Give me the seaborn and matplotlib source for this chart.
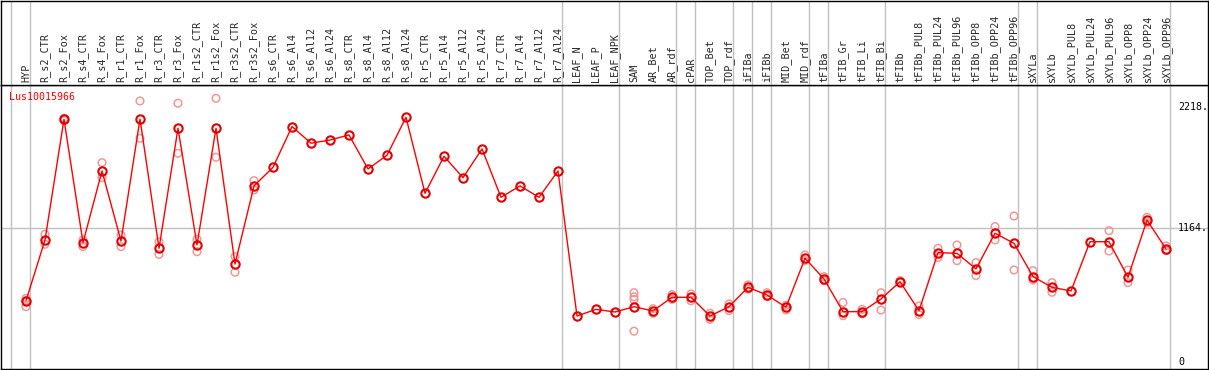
import matplotlib
matplotlib.use('Agg')
import matplotlib.pyplot as plt
import seaborn as sns
import pandas as pd

gene = 'Lus10015966'

samples = ['HYP', 'R_s2_CTR', 'R_s2_Fox', 'R_s4_CTR', 'R_s4_Fox', 'R_r1_CTR', 'R_r1_Fox',
           'R_r3_CTR', 'R_r3_Fox', 'R_r1s2_CTR', 'R_r1s2_Fox', 'R_r3s2_CTR', 'R_r3s2_Fox',
           'R_s6_CTR', 'R_s6_Al4', 'R_s6_Al12', 'R_s6_Al24', 'R_s8_CTR', 'R_s8_Al4',
           'R_s8_Al12', 'R_s8_Al24', 'R_r5_CTR', 'R_r5_Al4', 'R_r5_Al12', 'R_r5_Al24',
           'R_r7_CTR', 'R_r7_Al4', 'R_r7_Al12', 'R_r7_Al24', 'LEAF_N', 'LEAF_P', 'LEAF_NPK',
           'SAM', 'AR_Bet', 'AR_rdf', 'cPAR', 'TOP_Bet', 'TOP_rdf', 'iFIBa', 'iFIBb',
           'MID_Bet', 'MID_rdf', 'tFIBa', 'tFIB_Gr', 'tFIB_Li', 'tFIB_Bi', 'tFIBb',
           'tFIBb_PUL8', 'tFIBb_PUL24', 'tFIBb_PUL96', 'tFIBb_OPP8', 'tFIBb_OPP24',
           'tFIBb_OPP96', 'sXYLa', 'sXYLb', 'sXYLb_PUL8', 'sXYLb_PUL24', 'sXYLb_PUL96',
           'sXYLb_OPP8', 'sXYLb_OPP24', 'sXYLb_OPP96']

# number of samples in each tissue group (separated by grey lines)
group_sizes = [1, 28, 3, 3, 1, 2, 1, 1, 2, 1, 3, 7, 1, 7]

means = [530, 1059, 2110, 1036, 1660, 1050, 2113, 987, 2032, 1016, 2032, 850, 1530,
         1692, 2047, 1902, 1930, 1974, 1678, 1797, 2128, 1466, 1788, 1602, 1852,
         1431, 1530, 1431, 1660, 397, 455, 432,
         478, 441, 560, 560, 397, 478, 647, 580, 473, 900, 720, 435, 435, 545, 696,
         443, 949, 943, 807, 1118, 1030, 740, 647, 615, 1044, 1044, 734, 1233, 981]

replicates = [[551, 478, 530], [1109, 1022], [2120, 2100], [1059, 1001], [1733, 1602],
              [1103, 1001], [2270, 1945], [1044, 934], [2250, 1814], [1065, 957],
              [2293, 1780], [914, 778], [1576, 1495],
              [], [], [], [], [], [], [], [], [], [], [], [], [], [], [], [],
              [], [], [],
              [600, 565, 540, 265], [461, 421], [583, 542], [589, 530], [421, 368],
              [502, 444], [668, 630], [600, 566], [490, 450], [929, 880], [740, 705],
              [515, 400], [455, 415], [600, 449], [705, 690], [484, 409], [987, 906],
              [1016, 879], [862, 749], [1176, 1060], [1268, 798], [792, 711], [688, 604],
              [], [], [1140, 963], [798, 688], [1257, 1210], [1007, 966]]

y_ticks = [0, 1164, 2218]
y_tick_labels = ['0', '1164.', '2218.']

rows = []
for i, vals in enumerate(replicates):
    for v in vals:
        rows.append({'pos': i, 'value': v})
rep_df = pd.DataFrame(rows)
mean_df = pd.DataFrame({'pos': range(len(samples)), 'value': means})

sns.set_style('white')
plt.rcParams['font.family'] = ['DejaVu Sans Mono']

W, H = 1209, 370
fig = plt.figure(figsize=(W / 100, H / 100), dpi=100)
ax = fig.add_axes([1 / W, 1 / H, 1207 / W, 284 / H])
ax_top = fig.add_axes([1 / W, 285 / H, 1207 / W, 84 / H], sharex=ax)

xmin, xmax = -25 / 19, 1182 / 19
ax.set_xlim(xmin, xmax)
ax.set_ylim(-64.5, 2409)

# group separators
bounds = [-1]
c = -1
for g in group_sizes:
    c += g
    bounds.append(c)
for b in bounds:
    ax.axvline(b + 0.21, color='#c0c0c0', lw=1, zorder=0)
    ax_top.axvline(b + 0.21, color='#c0c0c0', lw=1, zorder=0)
ax.axhline(1164, color='#c0c0c0', lw=1, zorder=0)

sns.scatterplot(data=rep_df, x='pos', y='value', ax=ax, marker='o', s=30,
                facecolor='none', edgecolor='#f09898', linewidth=1.1, zorder=2)
sns.lineplot(data=mean_df, x='pos', y='value', ax=ax, color='red', lw=1,
             marker='o', markersize=6, markerfacecolor='none', markeredgecolor='#e00000',
             markeredgewidth=1.5, zorder=3)

for v, lab in zip(y_ticks, y_tick_labels):
    ax.text(1178 / 19 - 26 / 19, v, lab, fontsize=7.2, va='center', ha='left',
            color='black')

ax.text(9 / 19 - 26 / 19, 2305, gene, color='red', fontsize=7.2, va='center', ha='left')

ax.set_xticks([])
ax.set_yticks([])
ax.set_xlabel('')
ax.set_ylabel('')
for sp in ax.spines.values():
    sp.set_color('black')
    sp.set_linewidth(1)

ax_top.set_ylim(0, 1)
for i, s in enumerate(samples):
    ax_top.text(i, 3 / 84, s, rotation=90, ha='center', va='bottom', fontsize=7.3)
ax_top.set_xticks([])
ax_top.set_yticks([])
for sp in ax_top.spines.values():
    sp.set_color('black')
    sp.set_linewidth(1)

fig.savefig('out.png', dpi=100)
